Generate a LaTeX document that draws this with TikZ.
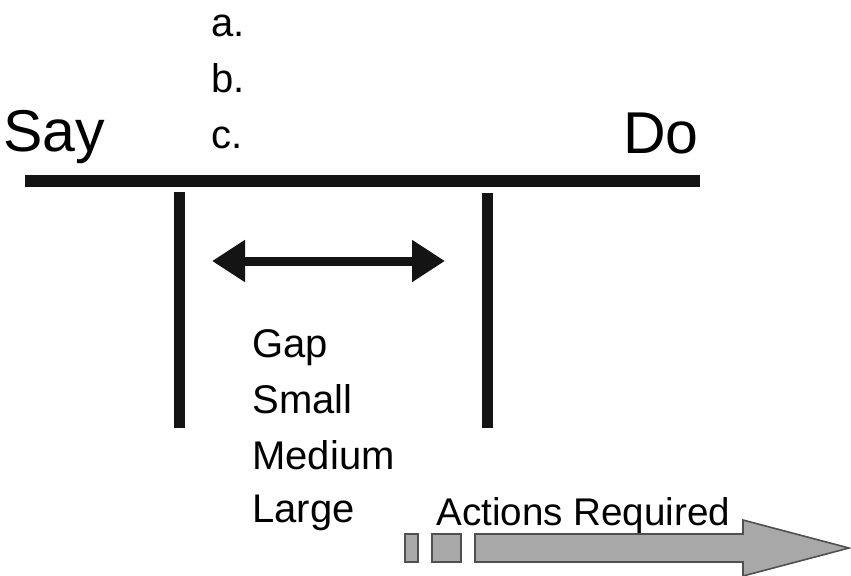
\documentclass[tikz,border=0pt]{standalone}
\usepackage{fontspec}
\setmainfont{Liberation Sans}
\usepackage{xcolor}
\usetikzlibrary{arrows.meta, positioning}
\definecolor{barblack}{HTML}{141414}
\definecolor{actfill}{HTML}{A8A8A8}
\definecolor{actedge}{HTML}{505050}

\begin{document}
\begin{tikzpicture}[
      x=0.5pt, y=-0.5pt,
      big/.style={inner sep=0pt, font=\fontsize{29.5}{34}\selectfont},
      lbl/.style={inner sep=0pt, anchor=base west, font=\fontsize{20}{24}\selectfont},
      bar/.style={line width=6pt, barblack},
      post/.style={line width=5.5pt, barblack},
      span/.style={line width=4.5pt, barblack,
                   {Triangle[length=16.5pt, width=20pt]}-{Triangle[length=16.5pt, width=20pt]}},
      act/.style={fill=actfill, draw=actedge, line width=0.8pt},
    ]
    \useasboundingbox (0,0) rectangle (851,575);

    % the say--do line and its two posts
    \coordinate (barL) at (25,181);
    \coordinate (barR) at (700,181);
    \coordinate (sayTop) at (179,192);
    \coordinate (sayBot) at (179,428);
    \coordinate (doTop) at (487,193);
    \coordinate (doBot) at (487,428);
    \draw[bar] (barL) -- (barR);
    \draw[post] (sayTop) -- (sayBot);
    \draw[post] (doTop) -- (doBot);

    \node[big, anchor=base west] (say) at (3,151) {Say};
    \node[big, anchor=base east] (do) at (699,153) {Do};

    \node[lbl] (opta) at (211,36) {a.};
    \node[lbl] (optb) at (211,92) {b.};
    \node[lbl] (optc) at (211,148) {c.};

    % the gap between saying and doing
    \coordinate (gapL) at (212,261);
    \coordinate (gapR) at (445,261);
    \draw[span] (gapL) -- (gapR);

    \node[lbl] (gap) at (252,357) {Gap};
    \node[lbl] (small) at (252,413) {Small};
    \node[lbl] (medium) at (252,469) {Medium};
    \node[lbl] (large) at (252,522) {Large};

    % actions required
    \node[lbl, font=\fontsize{19.3}{23}\selectfont] (actions) at (436,525) {Actions Required};
    \draw[act] (405,534) rectangle (418,562);
    \draw[act] (432,534) rectangle (461,562);
    \draw[act] (475,534) -- (743,534) -- (743,520) -- (849,548)
      -- (743,576) -- (743,562) -- (475,562) -- cycle;
  \end{tikzpicture}
\end{document}
